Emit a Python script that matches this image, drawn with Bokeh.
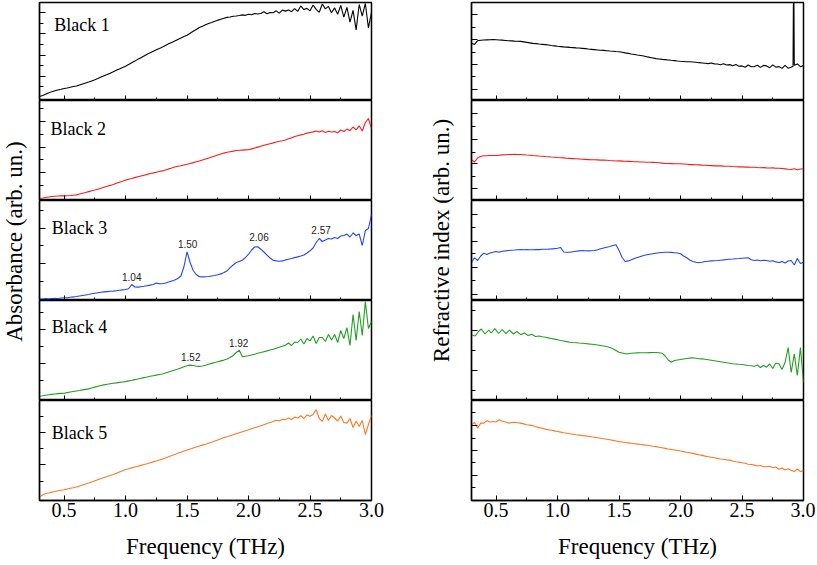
import numpy as np
from bokeh.plotting import figure
from bokeh.layouts import row, column
from bokeh.models import (Range1d, SingleIntervalTicker, FixedTicker, Label,
                          NumeralTickFormatter, CustomJSTickFormatter)
from bokeh.embed import file_html
from bokeh.resources import INLINE

# ---------------- data (arbitrary units, 0-100 per panel) ----------------
FREQ = np.round(np.linspace(0.3, 3.0, 109), 4)   # THz, step 0.025

SAMPLES = ["Black 1", "Black 2", "Black 3", "Black 4", "Black 5"]
COLORS = ["#000000", "#ff1a1a", "#2244ff", "#20a020", "#ff7722"]

ABS_1 = [4, 5, 6.5, 8, 9, 10, 10.8, 11.5, 12.3, 12.8, 13.5, 14.2,
         14.8, 15.8, 16.8, 17.8, 18.8, 20, 21.2, 22.5, 23.9, 25.2, 26.5, 27.9,
         29.4, 30.8, 32.2, 33.6, 35, 36.8, 38.5, 40.2, 42, 43.7, 45.4, 47.1,
         48.8, 50.2, 51.7, 53.1, 54.6, 56.2, 57.8, 59.3, 60.8, 62.3, 63.7, 65.2,
         66.6, 68.6, 70.6, 72.5, 74.4, 75.8, 77.2, 78.5, 79.5, 80.8, 82, 83,
         84, 84.8, 85.2, 85.9, 86.3, 86.8, 87.4, 86.9, 88, 87.5, 88.8, 88.2,
         88.7, 90.5, 88.6, 89.8, 89.6, 91.5, 89.2, 92.3, 91.2, 92.4, 90.6, 93.8,
         91.0, 96.5, 92.8, 94.0, 91.5, 97.5, 93.0, 90.0, 98.5, 93.5, 96.0, 89.5,
         94.5, 88.0, 97.0, 85.0, 95.0, 80.0, 92.0, 72.0, 98.0, 86.0, 99.0, 74.0,
         90.0]

ABS_2 = [2.3, 2.5, 3.0, 3.5, 4.0, 4.3, 4.5, 4.6, 4.6, 4.8, 5.0, 5.3,
         5.6, 6.5, 7.2, 8.0, 8.9, 9.8, 10.5, 11.3, 12.2, 13.2, 14.2, 15.1,
         16.1, 17.2, 18.3, 19.3, 20.4, 21.2, 22.0, 22.9, 23.7, 24.5, 25.3, 26.1,
         27.0, 27.6, 28.3, 29.0, 29.6, 30.6, 31.6, 32.5, 33.5, 34.2, 34.8, 35.5,
         36.2, 37.0, 37.9, 38.7, 39.5, 40.5, 41.5, 42.4, 43.4, 44.4, 45.4, 46.4,
         47.4, 48.2, 48.8, 49.4, 50.0, 50.2, 50.4, 50.6, 50.7, 51.6, 52.5, 53.4,
         54.3, 55.2, 56.0, 56.8, 57.6, 58.5, 59.2, 59.8, 60.5, 61.8, 62.6, 64.0,
         64.8, 65.6, 66.3, 67.4, 68.0, 68.6, 69.5, 68.4, 69.7, 67.9, 69.2, 68.5,
         69.0, 67.6, 70.5, 69.0, 71.4, 69.8, 73.5, 70.6, 74.7, 69.5, 78.0, 82.0,
         72.0]

ABS_3 = [1.7, 1.5, 2.0, 1.6, 2.0, 2.2, 2.0, 2.5, 2.7, 2.8, 3.2, 3.6,
         4.0, 4.5, 5.0, 5.5, 6.0, 6.8, 7.3, 7.8, 8.2, 8.6, 8.9, 9.2,
         9.4, 9.8, 10.2, 10.6, 11.0, 11.8, 16.0, 13.5, 13.4, 13.8, 14.2, 14.8,
         15.4, 16.0, 17.4, 16.8, 16.8, 17.5, 18.5, 19.5, 20.5, 22.0, 24.5, 34.0,
         48.7, 38.0, 30.0, 26.0, 23.8, 23.6, 23.8, 24.0, 24.5, 25.0, 25.7, 26.6,
         27.9, 29.5, 32.9, 35.5, 37.9, 39.0, 40.3, 43.0, 46.3, 50.5, 53.5, 53.8,
         51.3, 48.5, 45.3, 42.5, 40.3, 39.6, 39.3, 39.6, 40.6, 41.3, 42.0, 42.9,
         43.6, 44.5, 45.5, 47.5, 49.7, 52.5, 58.0, 62.0, 59.0, 60.5, 62.0, 61.5,
         63.0, 62.0, 64.5, 65.0, 66.4, 63.5, 67.5, 65.0, 66.4, 55.0, 70.0, 72.0,
         86.0]

ABS_4 = [4.3, 4.7, 5.2, 5.7, 6.1, 6.5, 6.9, 7.1, 7.3, 7.9, 8.5, 9.0,
         9.5, 10.0, 10.6, 11.1, 11.6, 12.5, 13.4, 14.3, 15.0, 15.6, 16.2, 16.7,
         17.2, 17.6, 18.1, 18.5, 18.9, 19.6, 20.2, 20.9, 21.5, 22.2, 22.9, 23.5,
         24.2, 24.8, 25.4, 26.0, 26.5, 27.5, 28.5, 29.5, 30.5, 31.5, 32.6, 33.7,
         34.8, 35.4, 35.0, 34.3, 34.1, 34.5, 35.3, 36.2, 37.1, 38.0, 38.8, 39.6,
         40.4, 41.5, 43.0, 45.0, 48.0, 50.3, 43.7, 44.2, 44.7, 45.5, 46.3, 47.2,
         48.0, 48.8, 49.6, 50.5, 51.3, 52.3, 53.3, 54.3, 55.3, 57.5, 55.0, 58.5,
         58.0, 61.5, 56.5, 62.0, 59.6, 64.5, 57.0, 63.0, 63.0, 59.0, 66.0, 60.5,
         66.0, 58.0, 70.0, 62.0, 72.8, 55.0, 86.0, 60.0, 89.0, 65.0, 99.0, 72.0,
         79.0]

ABS_5 = [3.4, 5.5, 7.0, 7.5, 8.4, 9.0, 9.8, 10.3, 10.8, 11.5, 12.3, 12.8,
         13.5, 14.5, 15.5, 16.5, 17.5, 18.6, 19.7, 20.8, 21.9, 22.9, 23.9, 24.9,
         25.9, 27.2, 28.5, 29.7, 31.0, 31.8, 32.6, 33.5, 34.3, 35.1, 36.0, 36.8,
         37.7, 38.6, 39.5, 40.5, 41.4, 42.6, 43.8, 44.9, 46.1, 47.2, 48.3, 49.4,
         50.5, 51.5, 52.5, 53.5, 54.5, 55.4, 56.3, 57.3, 58.2, 59.4, 60.6, 61.7,
         62.9, 63.8, 64.8, 65.7, 66.7, 67.7, 68.7, 69.7, 70.7, 71.7, 72.7, 73.7,
         74.7, 75.8, 76.9, 78.0, 79.1, 80.3, 79.5, 81.2, 80.8, 82.6, 81.0, 83.4,
         82.5, 84.8, 82.0, 85.6, 84.2, 86.0, 90.9, 82.0, 79.1, 86.5, 80.0, 85.0,
         82.5, 79.5, 84.5, 78.0, 77.4, 82.0, 73.0, 79.5, 74.0, 80.0, 66.0, 76.0,
         85.0]

REF_1 = [58.5, 57.2, 61.0, 61.5, 61.7, 61.9, 62.0, 62.2, 62.0, 61.8, 61.6, 61.3,
         61.0, 60.8, 60.6, 60.5, 60.3, 59.8, 59.3, 58.8, 58.3, 58.0, 57.6, 57.3,
         57.0, 56.6, 56.1, 55.7, 55.3, 55.0, 54.7, 54.5, 54.2, 54.0, 53.7, 53.5,
         53.2, 52.9, 52.5, 52.2, 51.9, 51.6, 51.3, 51.1, 50.8, 50.5, 50.3, 50.0,
         49.8, 49.2, 48.6, 48.1, 47.5, 47.0, 46.4, 45.9, 45.4, 44.7, 44.0, 43.4,
         42.7, 42.4, 42.0, 41.7, 41.4, 41.0, 40.7, 40.3, 40.0, 39.8, 39.6, 39.5,
         39.3, 39.0, 38.6, 38.3, 38.0, 37.6, 38.2, 37.4, 37.3, 36.5, 37.6, 36.2,
         36.6, 35.4, 36.8, 35.0, 35.3, 34.0, 36.2, 34.5, 34.6, 36.0, 33.8, 35.8,
         35.3, 33.5, 36.4, 34.0, 34.6, 32.8, 35.8, 33.0, 33.9, 36.0, 37.3, 34.5,
         35.6]
REF_1_SPIKE_F = [2.915, 2.918, 2.922]
REF_1_SPIKE = [35.0, 104.0, 104.0]

REF_2 = [40.7, 38.5, 42.7, 44.0, 44.7, 44.8, 45.0, 45.0, 45.0, 45.3, 45.6, 45.8,
         46.0, 46.0, 46.1, 46.0, 46.0, 45.8, 45.5, 45.3, 45.0, 44.8, 44.5, 44.3,
         44.0, 43.8, 43.5, 43.3, 43.0, 42.8, 42.6, 42.3, 42.1, 41.9, 41.7, 41.5,
         41.3, 41.1, 40.9, 40.7, 40.8, 40.6, 40.4, 40.4, 40.3, 40.0, 39.8, 39.5,
         39.6, 39.4, 39.2, 39.1, 39.0, 38.8, 38.7, 38.5, 38.5, 38.3, 38.2, 38.1,
         38.0, 37.7, 37.4, 37.0, 37.0, 36.9, 36.8, 36.7, 36.7, 36.5, 36.2, 35.9,
         36.0, 35.8, 35.6, 35.4, 35.3, 35.0, 34.9, 34.6, 34.6, 34.6, 34.4, 34.3,
         34.3, 34.0, 33.8, 33.6, 33.8, 33.4, 33.5, 33.2, 33.3, 33.0, 32.8, 32.9,
         32.6, 32.5, 32.6, 32.2, 32.3, 32.0, 31.6, 31.2, 31.0, 31.8, 30.8, 31.5,
         31.7]

REF_3 = [38.3, 42.7, 40.0, 44.5, 47.3, 46.0, 47.5, 48.2, 49.0, 48.2, 49.3, 49.6,
         50.0, 50.3, 50.5, 50.8, 51.0, 50.7, 51.0, 50.8, 50.7, 51.0, 50.9, 51.2,
         51.3, 51.4, 51.6, 51.9, 52.3, 53.0, 48.5, 48.3, 48.3, 48.8, 49.2, 49.6,
         50.0, 49.8, 49.6, 49.8, 50.0, 50.8, 51.7, 52.5, 53.3, 54.0, 55.0, 55.7,
         50.0, 43.0, 39.0, 39.6, 40.7, 42.0, 43.0, 44.0, 45.0, 45.8, 46.3, 46.8,
         47.3, 47.7, 48.0, 48.2, 48.3, 48.1, 47.8, 47.5, 46.7, 44.5, 42.7, 40.5,
         39.0, 38.2, 37.7, 38.3, 39.0, 39.3, 39.6, 39.8, 40.0, 40.3, 40.6, 41.0,
         41.3, 41.5, 41.8, 42.0, 42.3, 42.5, 42.7, 40.8, 40.0, 40.5, 39.8, 40.3,
         40.0, 39.2, 39.8, 38.6, 38.0, 38.9, 37.5, 39.5, 40.0, 35.5, 42.0, 37.0,
         38.3]

REF_4_LOW_F = [0.30, 0.33, 0.36, 0.38, 0.41, 0.44, 0.46, 0.49, 0.52, 0.55, 0.58,
               0.61, 0.64, 0.67, 0.70, 0.73, 0.76, 0.79, 0.82, 0.85, 0.875]
REF_4_LOW = [65.5, 64.5, 69.5, 71.5, 66.5, 70.5, 67.5, 71.8, 67.0, 71.0, 66.8,
             70.3, 66.5, 69.0, 65.8, 67.5, 65.0, 66.2, 64.0, 64.5, 63.8]
REF_4 = [63.3, 62.6, 62.0, 61.4, 60.7, 60.0, 59.5, 58.9, 58.3, 58.0, 57.8, 57.5,
         57.3, 57.0, 56.6, 56.3, 56.0, 55.5, 55.0, 54.5, 54.0, 53.0, 51.7, 50.0,
         48.3, 47.5, 46.7, 46.8, 47.3, 47.5, 47.6, 47.7, 47.7, 47.8, 47.9, 48.0,
         48.0, 47.7, 47.3, 44.5, 40.5, 38.3, 40.0, 40.5, 41.0, 41.5, 42.0, 42.4,
         42.7, 42.3, 41.8, 41.6, 41.3, 40.8, 40.3, 39.8, 39.3, 38.8, 38.3, 37.8,
         37.3, 36.8, 36.5, 36.2, 36.0, 35.5, 35.0, 34.8, 34.3, 35.5, 33.0, 35.0,
         33.3, 36.5, 32.0, 37.5, 36.7, 31.0, 38.0, 53.0, 28.0, 46.7, 25.0, 53.0,
         18.3]   # from 0.9 THz

REF_5 = [75.8, 78.0, 72.4, 77.4, 77.4, 79.8, 78.5, 79.0, 78.5, 80.8, 79.3, 78.5,
         77.4, 78.0, 78.2, 77.8, 77.4, 76.6, 75.8, 75.4, 74.7, 73.8, 72.9, 72.2,
         71.4, 70.8, 70.2, 69.6, 69.0, 68.4, 67.8, 67.3, 66.7, 66.3, 65.8, 65.4,
         65.0, 64.6, 64.2, 63.7, 63.3, 62.8, 62.3, 61.8, 61.3, 60.7, 60.1, 59.5,
         58.9, 58.5, 58.0, 57.6, 57.2, 56.8, 56.4, 56.0, 55.6, 55.2, 54.8, 54.3,
         53.9, 53.3, 52.7, 52.1, 51.5, 51.0, 50.5, 50.0, 49.5, 48.9, 48.3, 47.7,
         47.1, 46.4, 45.7, 45.1, 44.4, 43.8, 43.2, 42.7, 42.1, 41.5, 41.2, 40.6,
         40.4, 39.5, 38.8, 38.4, 37.7, 37.2, 36.3, 36.0, 35.4, 34.5, 35.0, 33.8,
         33.7, 34.2, 32.8, 33.5, 31.3, 32.5, 30.5, 31.8, 30.3, 29.0, 31.5, 28.8,
         30.3]

PEAKS_3 = ["1.04", "1.50", "2.06", "2.57"]
PEAKS_4 = ["1.52", "1.92"]

# ---------------- series assembly ----------------
freq = list(FREQ)
r1 = sorted(zip(freq + REF_1_SPIKE_F, REF_1 + REF_1_SPIKE))
r4_x = REF_4_LOW_F + [f for f in freq if f >= 0.9 - 1e-9]
r4_y = REF_4_LOW + REF_4

LEFT = [(freq, ABS_1), (freq, ABS_2), (freq, ABS_3), (freq, ABS_4), (freq, ABS_5)]
RIGHT = [([a for a, b in r1], [b for a, b in r1]), (freq, REF_2), (freq, REF_3),
         (r4_x, r4_y), (freq, REF_5)]

# ---------------- layout / style ----------------
FRAME_W = 332
FRAME_HS = [98, 100, 100, 100, 100]
TOP_B = 2
BOT_B = 64
TOTAL_H = TOP_B + sum(FRAME_HS) + BOT_B
SERIF = "Liberation Serif"
YLAB_L_W = 37
YLAB_R_W = 84

L_YTICKS = [([25, 46, 68, 90], [14, 36, 57, 79]),
            ([28, 53, 79], [15.5, 41, 66, 92]),
            ([37, 72], [19.5, 55, 90]),
            ([37, 71], [20, 54, 88]),
            ([36, 68], [19.5, 52, 84])]
R_YTICKS = [([11, 37, 62, 88], [24, 49, 75]),
            ([12, 37, 61, 87], [24, 48, 74]),
            ([6, 33, 59, 86], [20, 47, 73]),
            ([30, 70], [10, 50, 90]),
            ([25, 50, 75], [13, 38, 62, 88])]
LABEL_POS = [(0.42, 77), (0.39, 72), (0.40, 73), (0.40, 74), (0.40, 68)]

EMPTY = "return ''"


def make_panel(x, y, color, ticks, frame_h, left_b, right_b, first, last):
    tb = TOP_B if first else 0
    bb = BOT_B if last else 0
    p = figure(width=left_b + FRAME_W + right_b, height=frame_h + tb + bb,
               x_range=Range1d(0.3, 3.0), y_range=Range1d(0, 100),
               output_backend="svg", toolbar_location=None,
               min_border_left=left_b, min_border_right=right_b,
               min_border_top=tb, min_border_bottom=bb)
    p.xgrid.visible = False
    p.ygrid.visible = False
    p.outline_line_color = "black"
    p.outline_line_width = 1.5
    p.outline_line_alpha = 1.0
    p.background_fill_color = "white"
    p.border_fill_color = "white"
    p.line(x, y, line_color=color, line_width=1.1)

    xa = p.xaxis[0]
    xa.ticker = SingleIntervalTicker(interval=0.5, num_minor_ticks=2)
    xa.major_tick_in = 5
    xa.major_tick_out = 0
    xa.minor_tick_in = 3
    xa.minor_tick_out = 0
    xa.axis_line_color = "black"
    xa.axis_line_width = 1.3
    xa.major_tick_line_color = "black"
    xa.minor_tick_line_color = "black"
    if last:
        xa.formatter = NumeralTickFormatter(format="0.0")
        xa.major_label_text_font = SERIF
        xa.major_label_text_font_size = "20px"
        xa.major_label_text_color = "black"
        xa.major_label_standoff = 2
        xa.axis_label = "Frequency (THz)"
        xa.axis_label_text_font = SERIF
        xa.axis_label_text_font_size = "23px"
        xa.axis_label_text_font_style = "normal"
        xa.axis_label_text_color = "black"
        xa.axis_label_standoff = 14
    else:
        xa.formatter = CustomJSTickFormatter(code=EMPTY)
        xa.major_label_text_font_size = "0px"
        xa.major_label_standoff = 0

    ya = p.yaxis[0]
    ya.ticker = FixedTicker(ticks=ticks[0], minor_ticks=ticks[1])
    ya.formatter = CustomJSTickFormatter(code=EMPTY)
    ya.major_tick_in = 6
    ya.major_tick_out = 0
    ya.minor_tick_in = 4
    ya.minor_tick_out = 0
    ya.axis_line_color = "black"
    ya.axis_line_width = 1.3
    ya.major_tick_line_color = "black"
    ya.minor_tick_line_color = "black"
    ya.major_label_text_font_size = "0px"
    ya.major_label_standoff = 0
    return p


def make_ylabel(width, text, xc, yc):
    p = figure(width=width, height=TOTAL_H, x_range=Range1d(0, width),
               y_range=Range1d(0, TOTAL_H), x_axis_type=None, y_axis_type=None,
               output_backend="svg", toolbar_location=None,
               min_border_left=0, min_border_right=0,
               min_border_top=0, min_border_bottom=0)
    p.xgrid.visible = False
    p.ygrid.visible = False
    p.outline_line_color = None
    p.background_fill_color = "white"
    p.border_fill_color = "white"
    p.add_layout(Label(x=xc, y=yc, text=text, angle=90, angle_units="deg",
                       text_font=SERIF, text_font_size="23px", text_color="black",
                       text_align="center", text_baseline="middle"))
    return p


left_panels = []
right_panels = []
for i in range(5):
    lp = make_panel(LEFT[i][0], LEFT[i][1], COLORS[i], L_YTICKS[i], FRAME_HS[i],
                    2, 14, i == 0, i == 4)
    lx, ly = LABEL_POS[i]
    lp.add_layout(Label(x=lx, y=ly, text=SAMPLES[i], text_font=SERIF,
                        text_font_size="18px", text_color="black",
                        text_baseline="alphabetic"))
    left_panels.append(lp)
    rp = make_panel(RIGHT[i][0], RIGHT[i][1], COLORS[i], R_YTICKS[i], FRAME_HS[i],
                    2, 12, i == 0, i == 4)
    right_panels.append(rp)

# peak annotations
for txt, (px, py) in zip(PEAKS_3, [(1.05, 23.5), (1.505, 56.4), (2.085, 63.8), (2.59, 70.5)]):
    left_panels[2].add_layout(Label(x=px, y=py, text=txt, text_font="Liberation Sans",
                                    text_font_size="10px", text_color="#222222",
                                    text_align="center", text_baseline="middle"))
for txt, (px, py) in zip(PEAKS_4, [(1.53, 43.7), (1.92, 58.0)]):
    left_panels[3].add_layout(Label(x=px, y=py, text=txt, text_font="Liberation Sans",
                                    text_font_size="10px", text_color="#222222",
                                    text_align="center", text_baseline="middle"))

ylab_left = make_ylabel(YLAB_L_W, "Absorbance (arb. un.)", 13.5, TOTAL_H - 241)
ylab_right = make_ylabel(YLAB_R_W, "Refractive index (arb. un.)", 56, TOTAL_H - 240)

layout = row(ylab_left, column(*left_panels), ylab_right, column(*right_panels))

with open("out.html", "w") as f:
    f.write(file_html(layout, INLINE, title="THz spectra"))
